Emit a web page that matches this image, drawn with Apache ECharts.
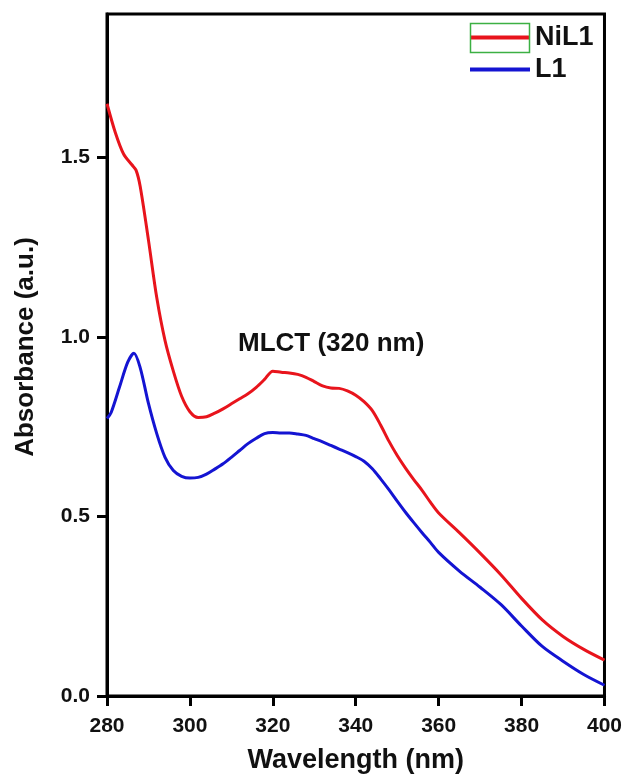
<!DOCTYPE html>
<html lang="en">
<head>
<meta charset="UTF-8">
<title>NiL1 / L1 absorbance</title>
<style>
  html, body { margin: 0; padding: 0; background: #fff; }
</style>
</head>
<body>
<div id="chart" style="width:625px;height:780px;"></div>
<script src="https://cdn.jsdelivr.net/npm/echarts@6/dist/echarts.min.js"></script>
<script>
// spectra (nm, a.u.)
var nil1Wavelength = [280, 282, 284, 286, 287, 288, 290, 292, 294, 296, 298, 300, 302, 304, 306, 308, 310, 312, 314, 316, 318, 320, 322, 324, 326, 328, 330, 332, 334, 336, 338, 340, 342, 344, 346, 348, 350, 352, 354, 356, 358, 360, 365, 370, 375, 380, 385, 390, 395, 400];
var nil1Absorbance = [1.65, 1.57, 1.51, 1.48, 1.465, 1.42, 1.27, 1.11, 0.99, 0.905, 0.835, 0.792, 0.776, 0.778, 0.788, 0.80, 0.814, 0.828, 0.842, 0.86, 0.882, 0.905, 0.902, 0.900, 0.896, 0.888, 0.876, 0.864, 0.858, 0.857, 0.85, 0.838, 0.82, 0.795, 0.755, 0.71, 0.67, 0.635, 0.603, 0.573, 0.54, 0.51, 0.455, 0.398, 0.338, 0.272, 0.212, 0.166, 0.13, 0.10];

var l1Wavelength = [280, 281, 283, 285, 286.5, 288, 290, 292, 294, 296, 298, 300, 302, 304, 306, 308, 310, 312, 314, 316, 318, 320, 322, 324, 326, 328, 330, 332, 334, 336, 338, 340, 342, 344, 346, 348, 350, 352, 354, 356, 358, 360, 365, 370, 375, 380, 385, 390, 395, 400];
var l1Absorbance = [0.773, 0.79, 0.86, 0.93, 0.955, 0.915, 0.815, 0.731, 0.665, 0.628, 0.612, 0.607, 0.609, 0.618, 0.632, 0.647, 0.665, 0.684, 0.703, 0.718, 0.731, 0.734, 0.733, 0.733, 0.73, 0.726, 0.717, 0.708, 0.698, 0.688, 0.678, 0.667, 0.654, 0.633, 0.605, 0.575, 0.543, 0.512, 0.483, 0.455, 0.428, 0.40, 0.348, 0.303, 0.255, 0.195, 0.138, 0.097, 0.06, 0.03];

var seriesNames = ['NiL1', 'L1'];
var xTicks = [280, 300, 320, 340, 360, 380, 400];
var yTicks = [0, 0.5, 1.0, 1.5];

function pairs(xs, ys) {
  return xs.map(function (x, i) { return [x, ys[i]]; });
}

var font = 'Arial, "Liberation Sans", sans-serif';
var myChart = echarts.init(document.getElementById('chart'));

var option = {
  backgroundColor: '#fff',
  animation: false,
  textStyle: { fontFamily: font },
  grid: {
    left: 107, top: 14, right: 19, bottom: 84,
    show: true, borderColor: '#000', borderWidth: 3
  },
  legend: {
    data: seriesNames,
    orient: 'vertical',
    left: 470, top: 24,
    padding: 0,
    itemGap: 5,
    itemWidth: 60, itemHeight: 4,
    icon: 'rect',
    textStyle: { fontSize: 27, fontWeight: 'bold', color: '#111', fontFamily: font }
  },
  xAxis: {
    type: 'value',
    min: 280, max: 400, interval: 20,
    name: 'Wavelength (nm)',
    nameLocation: 'middle',
    nameGap: 51,
    nameTextStyle: { fontSize: 27, fontWeight: 'bold', color: '#111', fontFamily: font },
    axisLine: { lineStyle: { color: '#000', width: 3 } },
    axisTick: { length: 10, lineStyle: { color: '#000', width: 3 }, customValues: xTicks },
    axisLabel: { margin: 20, fontSize: 21, fontWeight: 'bold', color: '#111', fontFamily: font, customValues: xTicks },
    splitLine: { show: false }
  },
  yAxis: {
    type: 'value',
    min: 0, max: 1.9,
    name: 'Absorbance (a.u.)',
    nameLocation: 'middle',
    nameGap: 68,
    nameTextStyle: { fontSize: 26, fontWeight: 'bold', color: '#111', fontFamily: font, padding: [0, 0, 0, 16] },
    axisLine: { lineStyle: { color: '#000', width: 3 } },
    axisTick: { length: 10, lineStyle: { color: '#000', width: 3 }, customValues: yTicks },
    axisLabel: {
      margin: 17, fontSize: 21, fontWeight: 'bold', color: '#111', fontFamily: font,
      customValues: yTicks,
      formatter: function (v) { return v.toFixed(1); }
    },
    splitLine: { show: false }
  },
  graphic: [
    {
      type: 'text',
      left: 238, top: 331,
      style: { text: 'MLCT (320 nm)', font: 'bold 26px ' + font, fill: '#111' }
    },
    {
      type: 'rect',
      shape: { x: 470.5, y: 23.5, width: 59, height: 29 },
      style: { fill: 'none', stroke: '#3cb043', lineWidth: 1.5 },
      z: 100
    }
  ],
  series: [
    {
      name: 'NiL1',
      type: 'line',
      data: pairs(nil1Wavelength, nil1Absorbance),
      showSymbol: false,
      smooth: 0.3,
      color: '#e8141c',
      lineStyle: { width: 3, color: '#e8141c' }
    },
    {
      name: 'L1',
      type: 'line',
      data: pairs(l1Wavelength, l1Absorbance),
      showSymbol: false,
      smooth: 0.3,
      color: '#1414d2',
      lineStyle: { width: 3, color: '#1414d2' }
    }
  ]
};

myChart.setOption(option);
</script>
</body>
</html>
